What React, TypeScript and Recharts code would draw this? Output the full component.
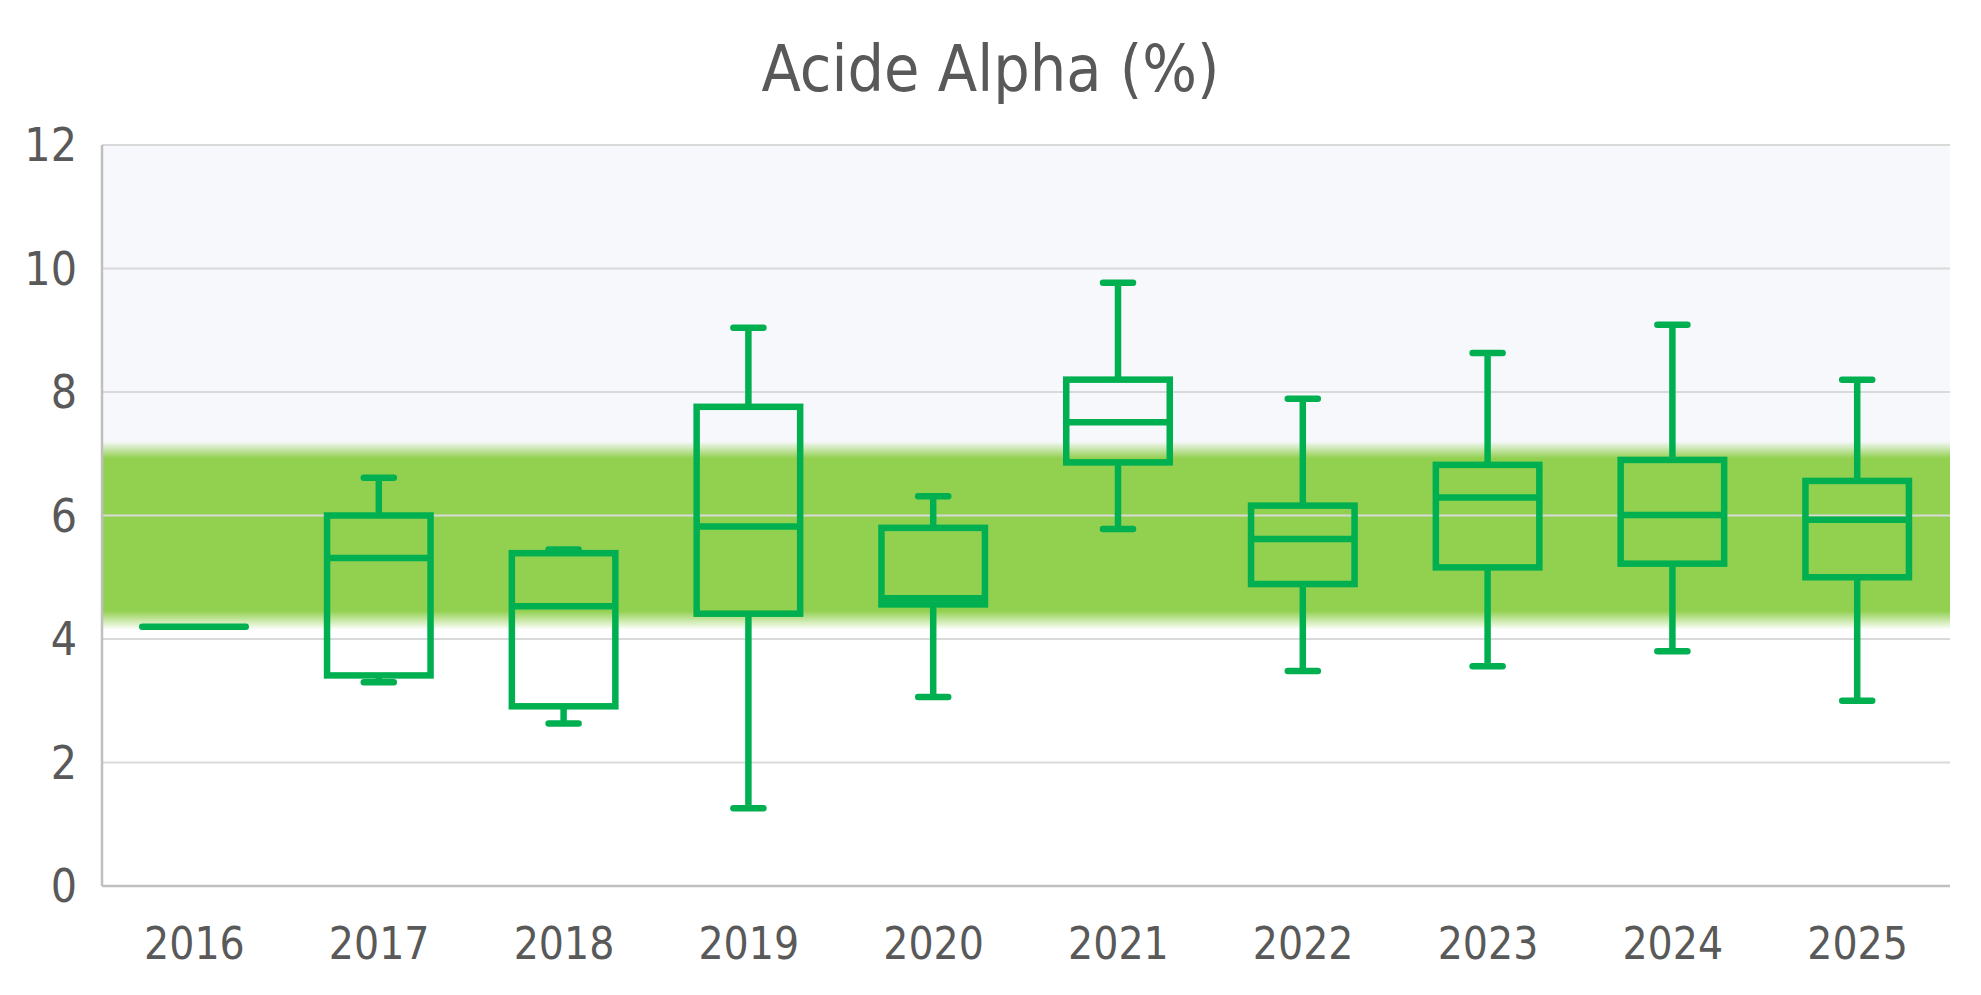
import { ComposedChart, Bar, XAxis, YAxis, ReferenceArea, ReferenceLine } from "recharts";

const years = ["2016", "2017", "2018", "2019", "2020", "2021", "2022", "2023", "2024", "2025"];
const minValues = [4.2, 3.3, 2.63, 1.26, 3.06, 5.78, 3.48, 3.56, 3.8, 3.0];
const q1Values = [4.2, 3.41, 2.91, 4.41, 4.56, 6.86, 4.89, 5.16, 5.22, 5.0];
const medianValues = [4.2, 5.31, 4.53, 5.82, 4.66, 7.51, 5.62, 6.29, 6.01, 5.93];
const q3Values = [4.2, 6.0, 5.39, 7.76, 5.8, 8.2, 6.16, 6.82, 6.9, 6.56];
const maxValues = [4.2, 6.61, 5.45, 9.04, 6.31, 9.77, 7.89, 8.63, 9.09, 8.2];
const yTicks = [0, 2, 4, 6, 8, 10, 12];
const targetLow = 4.15;
const targetHigh = 7.2;

const GREEN = "#00B050";
const TEXT = "#595959";
const FONT = '"DejaVu Sans Condensed", "DejaVu Sans", sans-serif';

const data = years.map((year, i) => ({
  year,
  min: minValues[i],
  q1: q1Values[i],
  median: medianValues[i],
  q3: q3Values[i],
  max: maxValues[i],
  span: [0, maxValues[i]],
}));

type BoxProps = {
  x?: number;
  y?: number;
  width?: number;
  height?: number;
  payload?: (typeof data)[number];
};

// the bar runs from 0 to max, so its pixels give the y scale for the other stats
function BoxShape({ x = 0, y = 0, width = 0, height = 0, payload }: BoxProps) {
  if (!payload) return null;
  const toPx = (v: number) => y + (height * (payload.max - v)) / payload.max;
  const sw = 6.5;
  const cx = x + width / 2;
  const capHalf = 15;
  const left = x + sw / 2;
  const right = x + width - sw / 2;

  if (payload.q3 - payload.q1 < 0.01) {
    const py = toPx(payload.median);
    return <line x1={left} x2={right} y1={py} y2={py} stroke={GREEN} strokeWidth={sw} strokeLinecap="round" />;
  }

  const yMax = toPx(payload.max);
  const yQ3 = toPx(payload.q3);
  const yMed = toPx(payload.median);
  const yQ1 = toPx(payload.q1);
  const yMin = toPx(payload.min);

  return (
    <g stroke={GREEN} strokeWidth={sw} fill="none">
      <line x1={cx} x2={cx} y1={yMax} y2={yQ3} />
      <line x1={cx} x2={cx} y1={yQ1} y2={yMin} />
      <line x1={cx - capHalf} x2={cx + capHalf} y1={yMax} y2={yMax} strokeLinecap="round" />
      <line x1={cx - capHalf} x2={cx + capHalf} y1={yMin} y2={yMin} strokeLinecap="round" />
      <rect x={left} y={yQ3} width={right - left} height={yQ1 - yQ3} />
      <line x1={left} x2={right} y1={yMed} y2={yMed} />
    </g>
  );
}

export default function App() {
  return (
    <div style={{ position: "absolute", left: 0, top: 0, width: 1981, height: 995, background: "#fff", fontFamily: FONT }}>
      <div
        style={{
          position: "absolute",
          top: 0,
          left: 0,
          width: 1981,
          textAlign: "center",
          fontSize: 64,
          lineHeight: "138px",
          color: TEXT,
        }}
      >
        Acide Alpha (%)
      </div>
      <ComposedChart width={1981} height={995} data={data} margin={{ top: 145, right: 31, bottom: 49, left: 0 }}>
        <defs>
          <linearGradient id="bandFill" x1="0" y1="0" x2="0" y2="1">
            <stop offset="0%" stopColor="#92D050" stopOpacity={0} />
            <stop offset="9%" stopColor="#92D050" stopOpacity={1} />
            <stop offset="90%" stopColor="#92D050" stopOpacity={1} />
            <stop offset="100%" stopColor="#92D050" stopOpacity={0} />
          </linearGradient>
        </defs>
        <ReferenceArea y1={6.8} y2={12} fill="#F6F8FB" fillOpacity={1} stroke="none" zIndex={-30} />
        <ReferenceArea y1={targetLow} y2={targetHigh} fill="url(#bandFill)" fillOpacity={1} stroke="none" zIndex={-20} />
        {yTicks.slice(1).map((t) => (
          <ReferenceLine key={t} y={t} stroke="#D9D9D9" strokeWidth={2} zIndex={-10} />
        ))}
        <XAxis
          dataKey="year"
          height={60}
          axisLine={{ stroke: "#BFBFBF", strokeWidth: 2.5 }}
          tickLine={false}
          tickMargin={36}
          tick={{ fill: TEXT, fontSize: 44, fontFamily: FONT }}
        />
        <YAxis
          domain={[0, 12]}
          ticks={yTicks}
          width={102}
          axisLine={{ stroke: "#BFBFBF", strokeWidth: 2.5 }}
          tickLine={false}
          tickMargin={19}
          tick={{ fill: TEXT, fontSize: 46, fontFamily: FONT }}
        />
        <Bar dataKey="span" barSize={110} shape={<BoxShape />} isAnimationActive={false} />
      </ComposedChart>
    </div>
  );
}
